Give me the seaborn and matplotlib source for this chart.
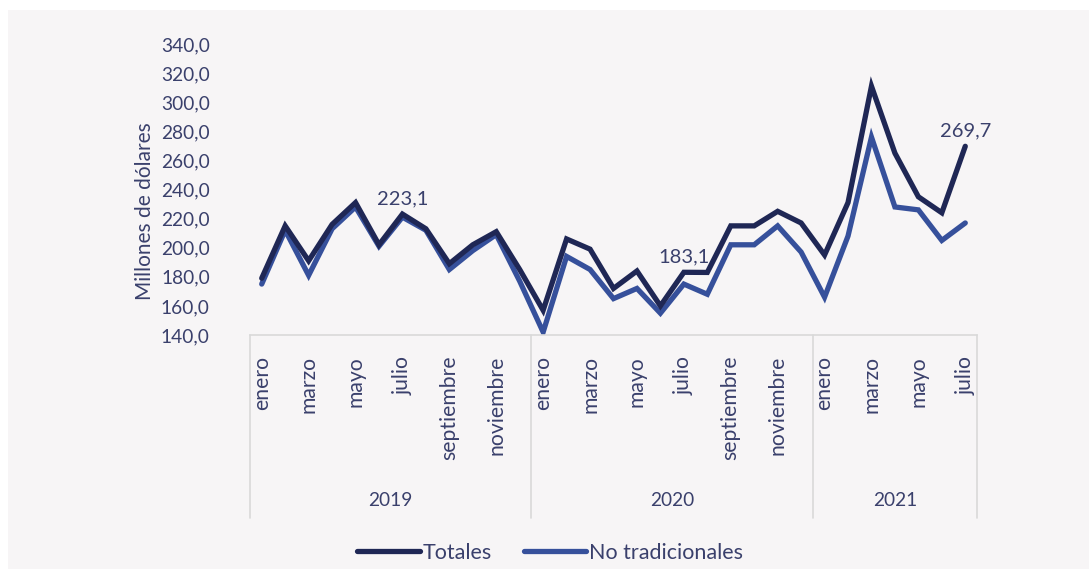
import matplotlib
matplotlib.use("Agg")
import matplotlib.pyplot as plt
import seaborn as sns
import pandas as pd
from matplotlib.lines import Line2D
from matplotlib.patches import Rectangle

# --- data (millones de dólares) ---
years = ["2019", "2020", "2021"]
months = ["enero", "febrero", "marzo", "abril", "mayo", "junio", "julio",
          "agosto", "septiembre", "octubre", "noviembre", "diciembre"]
months_per_year = [12, 12, 7]

totales = [179, 215, 191, 216, 231, 202, 223.1, 213, 189, 202, 211, 185,
           157, 206, 199, 172, 184, 160, 183.1, 183, 215, 215, 225, 217,
           195, 231, 311, 265, 235, 224, 269.7]
no_tradicionales = [175, 212, 181, 213, 228, 201, 221, 212, 185, 198, 209, 177,
                    142, 194, 185, 165, 172, 155, 175, 168, 202, 202, 215, 197,
                    166, 208, 276, 228, 226, 205, 217]
labeled_points = [6, 18, 30]  # julio 2019, julio 2020, julio 2021

series_names = ["Totales", "No tradicionales"]
colors = ["#1f2755", "#36509b"]
text_color = "#3a406c"
bg = "#f7f5f6"

month_labels = [months[m] for n in months_per_year for m in range(n)]
n = len(totales)
df = pd.DataFrame({
    "idx": list(range(n)) * 2,
    "valor": totales + no_tradicionales,
    "serie": [series_names[0]] * n + [series_names[1]] * n,
})

sns.set_style("white")
plt.rcParams["font.family"] = ["Lato", "DejaVu Sans"]

W, H = 1089, 569
fs = 13.8
fig = plt.figure(figsize=(W / 100, H / 100), dpi=100, facecolor="white")
fig.patches.append(Rectangle((8 / W, 0), 1, 1 - 10 / H, transform=fig.transFigure,
                             facecolor=bg, edgecolor="none", zorder=-10))
ax = fig.add_axes([250 / W, 1 - 335 / H, 727 / W, 291 / H])
ax.set_facecolor(bg)

sns.lineplot(data=df, x="idx", y="valor", hue="serie", hue_order=series_names[::-1],
             palette={series_names[0]: colors[0], series_names[1]: colors[1]},
             linewidth=3.8, ax=ax, legend=False)
for line in ax.get_lines():
    line.set_solid_joinstyle("miter")
    line.set_solid_capstyle("round")

ax.set_xlim(-0.5, n - 0.5)
ax.set_ylim(140, 340)
ax.set_yticks(range(140, 341, 20))
ax.set_yticklabels([f"{v:.1f}".replace(".", ",") for v in range(140, 341, 20)],
                   fontsize=fs, color=text_color)
ax.tick_params(axis="y", length=0, pad=29)

tick_pos = [i for i in range(n) if month_labels[i] in ("enero", "marzo", "mayo", "julio",
                                                          "septiembre", "noviembre")]
ax.set_xticks(tick_pos)
ax.set_xticklabels([month_labels[i] for i in tick_pos], rotation=90,
                   fontsize=15.2, color=text_color)
ax.tick_params(axis="x", length=0, pad=15)
ax.set_xlabel("")
ax.set_ylabel("Millones de dólares", fontsize=15, color=text_color)
ax.yaxis.set_label_coords(-0.131, 0.426)

for s in ["top", "right", "left"]:
    ax.spines[s].set_visible(False)
ax.spines["bottom"].set_color("#d9d9d9")
ax.spines["bottom"].set_linewidth(1.2)

# year separators and labels
trans = ax.get_xaxis_transform()
y_bottom = -(518 - 335) / 291
start = 0
bounds = [-0.5]
for yr, cnt in zip(years, months_per_year):
    bounds.append(start + cnt - 0.5)
    ax.text(start + (cnt - 1) / 2, -(501 - 335) / 291, yr, transform=trans,
            ha="center", va="center", fontsize=fs, color=text_color)
    start += cnt
for b in bounds:
    ax.add_line(Line2D([b, b], [0, y_bottom], transform=trans, color="#d9d9d9",
                       linewidth=1.2, clip_on=False))

# value labels
for i in labeled_points:
    ax.annotate(f"{totales[i]:.1f}".replace(".", ","), (i, totales[i]),
                xytext=(0, 5), textcoords="offset points", ha="center", va="bottom",
                fontsize=14.5, color=text_color)

handles = [Line2D([], [], color=c, linewidth=3.8, solid_capstyle="round") for c in colors]
fig.legend(handles, series_names, loc="center", bbox_to_anchor=(0.505, 1 - 553 / H),
           ncol=2, frameon=False, fontsize=15.5, handlelength=2.9, handletextpad=0.12,
           columnspacing=1.5, labelcolor=text_color)

fig.savefig("out.png", dpi=100, facecolor="white")
